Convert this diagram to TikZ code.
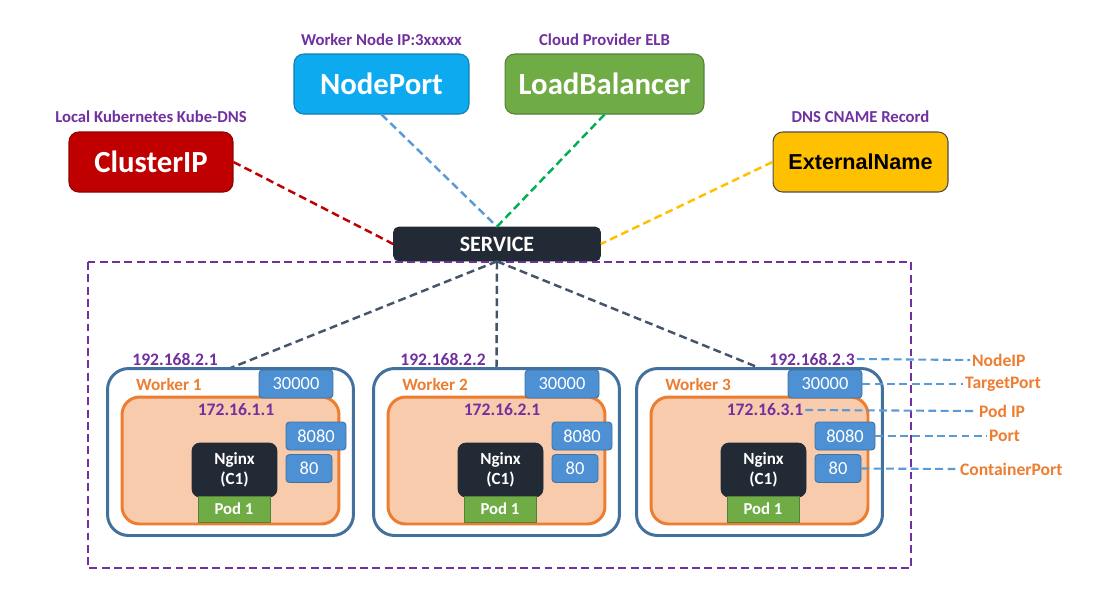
\documentclass[tikz,border=0pt]{standalone}
\usepackage{fontspec}
\setmainfont{Carlito}
\newfontfamily\arialfont{Liberation Sans}
\usetikzlibrary{positioning}

\definecolor{cipred}{HTML}{C00000}
\definecolor{npblue}{HTML}{0DAAEF}
\definecolor{lbgreen}{HTML}{6FAC46}
\definecolor{enamber}{HTML}{FFC000}
\definecolor{svcdark}{HTML}{222A35}
\definecolor{lblpurple}{HTML}{7030A0}
\definecolor{wrkorange}{HTML}{ED7D31}
\definecolor{wrkblue}{HTML}{41719C}
\definecolor{podpeach}{HTML}{F8CBAD}
\definecolor{prtblue}{HTML}{4E90D4}
\definecolor{linkdark}{HTML}{44546A}
\definecolor{linkgreen}{HTML}{00B050}
\definecolor{linkblue}{HTML}{5B9BD5}

\begin{document}
\begin{tikzpicture}[x=0.02cm,y=-0.02cm,
  typ/.style={rectangle,draw=#1!75!black,fill=#1,rounded corners=5.5pt,line width=0.6pt,
    minimum height=1.2cm,text=white,font=\fontsize{17.5}{20}\selectfont\bfseries},
  lbl/.style={text=lblpurple,inner sep=1pt,font=\fontsize{9.5}{11}\selectfont\bfseries},
  svcbox/.style={rectangle,draw=svcdark,fill=svcdark,rounded corners=3pt,minimum width=4.14cm,
    minimum height=0.68cm,text=white,font=\fontsize{12.5}{14}\selectfont\bfseries},
  wrk/.style={rectangle,draw=wrkblue,fill=white,line width=1.7pt,rounded corners=12pt,
    minimum width=4.92cm,minimum height=3.34cm},
  podbx/.style={rectangle,draw=wrkorange,fill=podpeach,line width=1.7pt,rounded corners=10pt,
    minimum width=4.34cm,minimum height=2.54cm},
  prt/.style={rectangle,draw=wrkblue,fill=prtblue,rounded corners=2pt,line width=0.5pt,
    minimum height=0.56cm,inner sep=0pt,text=white,font=\fontsize{10.5}{12}\selectfont},
  ctr/.style={rectangle,draw=svcdark,fill=svcdark,rounded corners=4.5pt,minimum width=1.7cm,
    minimum height=1.08cm,align=center,text=white,font=\fontsize{9.7}{11.5}\selectfont\bfseries},
  podtag/.style={rectangle,draw=lbgreen!75!black,fill=lbgreen,line width=0.5pt,minimum width=1.44cm,
    minimum height=0.52cm,inner sep=0pt,text=white,font=\fontsize{9.5}{11}\selectfont\bfseries},
  ip/.style={text=lblpurple,inner sep=1pt,font=\fontsize{10}{12}\selectfont\bfseries},
  wlbl/.style={text=wrkorange,inner sep=1pt,font=\fontsize{9.8}{12}\selectfont\bfseries},
  rlbl/.style={text=wrkorange,inner sep=1pt,anchor=west,font=\fontsize{10}{12}\selectfont\bfseries},
  dsh/.style={dash pattern=on 4.5pt off 2.5pt,line width=1.4pt},
  bdsh/.style={dash pattern=on 4.5pt off 2.5pt,line width=1.2pt,draw=linkblue}
]
  \useasboundingbox (0,0) rectangle (1094,606);

  % service types
  \node[typ=cipred] (cip) at (151,162) [minimum width=3.28cm] {ClusterIP};
  \node[typ=npblue] (np) at (381.5,84) [minimum width=3.5cm] {NodePort};
  \node[typ=lbgreen] (lb) at (604.5,84) [minimum width=3.98cm] {LoadBalancer};
  \node[typ=enamber,draw=black!70,text=black,minimum width=3.5cm,
    font=\arialfont\fontsize{12.3}{14}\selectfont\bfseries] (en) at (860.5,162) {ExternalName};

  \node[lbl,above=4pt of cip] (lcip) {Local Kubernetes Kube-DNS};
  \node[lbl,above=3.5pt of np] (lnp) {Worker Node IP:3xxxxx};
  \node[lbl,above=3.5pt of lb] (llb) {Cloud Provider ELB};
  \node[lbl,above=4pt of en] (len) {DNS CNAME Record};

  \node[svcbox] (svc) at (497,244) {SERVICE};

  \draw[dsh,draw=cipred] (cip.east) -- (svc.west);
  \draw[dsh,draw=linkblue] (np.south) -- (svc.north);
  \draw[dsh,draw=linkgreen] (lb.south) -- (svc.north);
  \draw[dsh,draw=enamber] (en.west) -- (svc.east);

  % cluster
  \draw[dsh,draw=lblpurple] (88,262) rectangle (911,568);

  \foreach \i/\dx/\hx in {1/0/175,2/266/443,3/529/812}{
    \draw[dsh,draw=linkdark] (svc.south) -- (230.5+\dx,368);
    \node[wrk] (w\i) at (230.5+\dx,452) {};
    \node[podbx] (pod\i) at (230.5+\dx,460.5) {};
    \node[prt,minimum width=1.48cm] (np\i) at (296+\dx,384) {30000};
    \node[prt,minimum width=1.2cm] (pp\i) at (316+\dx,436) {8080};
    \node[prt,minimum width=0.92cm] (cp\i) at (309+\dx,468.5) {80};
    \node[ctr] (ngx\i) at (234.5+\dx,470) {Nginx\\(C1)};
    \node[podtag] (pl\i) at (234+\dx,509) {Pod 1};
    \node[wlbl] (wl\i) at (169+\dx,385) {Worker \i};
    \node[ip] (hip\i) at (\hx,359) {192.168.2.\i};
    \node[ip] (pip\i) at (236+\dx,410) {172.16.\i.1};
  }

  % legend
  \node[rlbl] (nip) at (970,360) {NodeIP};
  \node[rlbl] (tpt) at (963,384) {TargetPort};
  \node[rlbl] (pdip) at (977,411) {Pod IP};
  \node[rlbl] (prl) at (987,436) {Port};
  \node[rlbl] (cpt) at (958,469) {ContainerPort};

  \draw[bdsh] (hip3.east) -- (nip.west);
  \draw[bdsh] (np3.east) -- (tpt.west);
  \draw[bdsh] (pip3.east) -- (pdip.west);
  \draw[bdsh] (pp3.east) -- (prl.west);
  \draw[bdsh] (cp3.east) -- (cpt.west);
\end{tikzpicture}
\end{document}
